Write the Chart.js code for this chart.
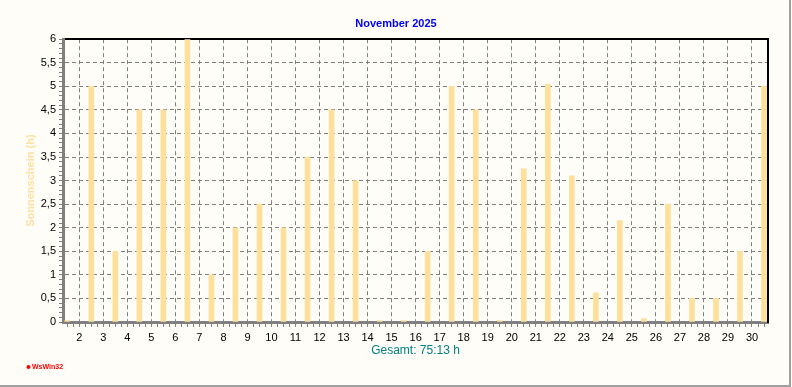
<!DOCTYPE html>
<html>
<head>
<meta charset="utf-8">
<script src="https://cdn.jsdelivr.net/npm/chart.js@4/dist/chart.umd.min.js"></script>
<style>
  body { margin: 0; background: #fffdf7; }
  canvas { display: block; }
</style>
</head>
<body>
<canvas id="myChart" width="792" height="387"></canvas>
<script>
// Sonnenschein pro Tag, November 2025 (Stunden)
const days = [1, 2, 3, 4, 5, 6, 7, 8, 9, 10, 11, 12, 13, 14, 15, 16, 17, 18, 19, 20, 21, 22, 23, 24, 25, 26, 27, 28, 29, 30];
const sunshine = [0.03, 5, 1.5, 4.5, 4.5, 6, 1, 2, 2.5, 2, 3.5, 4.5, 3, 0.03, 0.03, 1.5, 5, 4.5, 0.03, 3.25, 5.05, 3.1, 0.62, 2.15, 0.07, 2.5, 0.5, 0.5, 1.5, 5];
const xTickLabels = [2, 3, 4, 5, 6, 7, 8, 9, 10, 11, 12, 13, 14, 15, 16, 17, 18, 19, 20, 21, 22, 23, 24, 25, 26, 27, 28, 29, 30];
const yTickLabels = ['0', '0,5', '1', '1,5', '2', '2,5', '3', '3,5', '4', '4,5', '5', '5,5', '6'];

const gridGrey = '#808080';
const barColor = '#ffdf9c';

Chart.defaults.font.family = "'Liberation Sans', Arial, sans-serif";
Chart.defaults.font.size = 11;
Chart.defaults.color = '#000';

// bars sit in the middle of each day (day n starts at x = n)
const points = days.map((d, i) => ({x: d + 0.5, y: sunshine[i]}));

const frame = {
  id: 'frame',
  beforeDraw(chart) {
    const c = chart.ctx;
    c.save();
    c.fillStyle = '#fffdf7';
    c.fillRect(0, 0, chart.width, chart.height);
    c.strokeStyle = '#a0a0a0';
    c.lineWidth = 2;
    c.beginPath();
    c.moveTo(790, 0);
    c.lineTo(790, 386);
    c.lineTo(0, 386);
    c.stroke();
    c.restore();
  },
  afterDraw(chart) {
    // kleines Logo unten links
    const c = chart.ctx;
    c.save();
    c.fillStyle = '#ff0000';
    c.beginPath();
    c.arc(28.5, 367, 2, 0, Math.PI * 2);
    c.fill();
    c.font = "bold 7px 'Liberation Sans', Arial, sans-serif";
    c.textBaseline = 'middle';
    c.fillText('WsWin32', 32, 367.5);
    c.restore();
  }
};

new Chart('myChart', {
  type: 'bar',
  data: {
    datasets: [{
      data: points,
      backgroundColor: barColor,
      barThickness: 5
    }]
  },
  options: {
    responsive: false,
    animation: false,
    layout: {padding: {left: 0, right: 0, top: 0, bottom: 25}},
    plugins: {
      legend: {display: false},
      tooltip: {enabled: false},
      title: {
        display: true,
        text: 'November 2025',
        color: '#0000ff',
        font: {size: 11, weight: 'bold'},
        padding: {top: 17, bottom: 9}
      }
    },
    scales: {
      x: {
        type: 'linear',
        min: 1.322,
        max: 30.666,
        offset: false,
        afterFit(scale) { scale.height = 40; },
        afterBuildTicks(scale) {
          const t = [];
          for (let k = 6; k <= 122; k++) t.push({value: k / 4});
          scale.ticks = t;
        },
        ticks: {
          autoSkip: false,
          maxRotation: 0,
          padding: 4,
          callback: (v) => xTickLabels.includes(v) ? String(v) : ''
        },
        grid: {
          offset: false,
          color: (ctx) => (ctx.tick && Number.isInteger(ctx.tick.value)) ? gridGrey : 'transparent',
          tickColor: gridGrey,
          tickLength: 5
        },
        border: {color: gridGrey, width: 3, dash: [4, 3]},
        title: {
          display: true,
          text: 'Gesamt: 75:13 h',
          color: '#008080',
          font: {size: 12},
          padding: {top: 0, bottom: 4}
        }
      },
      x2: {
        type: 'linear',
        position: 'top',
        min: 1.322,
        max: 30.666,
        afterFit(scale) { scale.height = 0; },
        ticks: {display: false},
        grid: {display: false},
        border: {color: '#000', width: 2}
      },
      y: {
        min: 0,
        max: 6,
        afterFit(scale) { scale.width = 63; },
        afterBuildTicks(scale) {
          const t = [];
          for (let k = 0; k <= 60; k++) t.push({value: k / 10});
          scale.ticks = t;
        },
        ticks: {
          autoSkip: false,
          padding: 3,
          callback: (v, i) => i % 5 === 0 ? yTickLabels[i / 5] : ''
        },
        grid: {
          color: (ctx) => (ctx.index % 5 === 0 && ctx.index > 0 && ctx.index < 60) ? gridGrey : 'transparent',
          tickColor: gridGrey,
          tickLength: 4
        },
        border: {color: gridGrey, width: 3, dash: [4, 3]},
        title: {
          display: true,
          text: 'Sonnenschein (h)',
          color: '#ffe0a0',
          font: {size: 11, weight: 'bold'},
          padding: {top: 24, bottom: 0}
        }
      },
      y2: {
        position: 'right',
        min: 0,
        max: 6,
        afterFit(scale) { scale.width = 24; },
        ticks: {display: false},
        grid: {display: false},
        border: {color: '#000', width: 2}
      }
    }
  },
  plugins: [frame]
});
</script>
</body>
</html>
